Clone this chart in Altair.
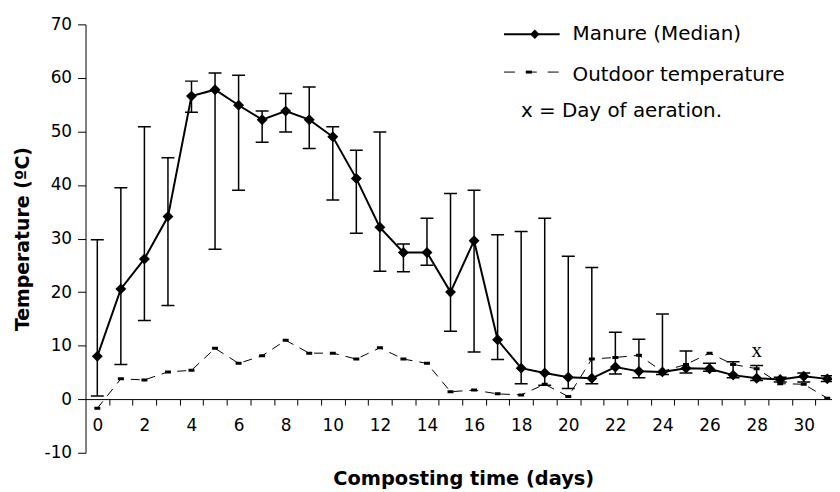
import altair as alt
import pandas as pd

# ---------------- data ----------------
days = list(range(32))
manure_median = [8.0, 20.6, 26.2, 34.1, 56.6, 57.8, 54.9, 52.2, 53.8, 52.2,
                 49.0, 41.2, 32.1, 27.4, 27.4, 20.0, 29.6, 11.1, 5.8, 4.9,
                 4.1, 3.9, 6.0, 5.2, 5.1, 5.8, 5.7, 4.5, 3.9, 3.7, 4.3, 3.8]
manure_upper = [29.8, 39.5, 50.9, 45.1, 59.4, 60.9, 60.5, 53.8, 57.1, 58.3,
                50.9, 46.5, 49.9, 29.0, 33.8, 38.4, 39.0, 30.7, 31.3, 33.8,
                26.7, 24.6, 12.5, 11.2, 15.9, 9.0, 6.7, 7.0, 6.3, 4.1, 4.9, 4.4]
manure_lower = [0.6, 6.5, 14.7, 17.5, 53.6, 28.0, 39.0, 48.0, 49.9, 46.8,
                37.2, 31.0, 23.9, 23.8, 25.0, 12.7, 8.8, 7.4, 2.9, 2.6,
                2.0, 2.9, 4.7, 4.0, 4.6, 4.9, 5.2, 4.0, 3.5, 3.2, 3.2, 3.3]
outdoor_temp = [-1.7, 3.8, 3.6, 5.1, 5.4, 9.5, 6.7, 8.1, 11.0, 8.6,
                8.6, 7.5, 9.6, 7.5, 6.7, 1.4, 1.7, 1.0, 0.8, 2.8,
                0.5, 7.5, 7.8, 8.2, 5.2, 6.5, 8.6, 6.5, 5.7, 2.9, 2.8, 0.2]
aeration_days = [28]
aeration_level = [9.0]
aeration_symbol = ["x"]

x_tick_positions = [v / 2 for v in range(0, 63)]   # labels on even days, ticks between days
y_ticks = list(range(-10, 71, 10))
legend_labels = ["Manure (Median)", "Outdoor temperature", "x = Day of aeration."]

df = pd.DataFrame({"day": days, "median": manure_median, "upper": manure_upper,
                   "lower": manure_lower, "outdoor": outdoor_temp})
aer = pd.DataFrame({"day": aeration_days, "level": aeration_level, "sym": aeration_symbol})

FONT = "DejaVu Sans"

xscale = alt.Scale(domain=[-0.5, 31.2], nice=False, zero=False)
yscale = alt.Scale(domain=[-10, 70], nice=False, zero=False)

xaxis = alt.Axis(
    values=x_tick_positions, offset=-54, grid=False,
    tickSize=6, tickWidth=1, tickColor="black",
    tickOpacity={"condition": {"test": "datum.value % 1 === 0", "value": 0}, "value": 1},
    labelExpr="datum.value % 2 === 0 ? '' + datum.value : ''",
    labelOverlap=False, labelFlush=False, labelFont=FONT, labelFontSize=17,
    labelColor="black", labelPadding=13,
    domainColor="black", domainWidth=1,
    title="Composting time (days)", titleFont=FONT, titleFontSize=19.5,
    titleFontWeight="bold", titleColor="black",
    titleX=380, titleY=86, titleBaseline="alphabetic", titleAlign="center",
)
yaxis = alt.Axis(
    values=y_ticks, grid=False, tickSize=8, tickWidth=1, tickColor="black",
    domainColor="black", domainWidth=1,
    labelExpr="'' + datum.value",
    labelFont=FONT, labelFontSize=17, labelColor="black", labelPadding=6,
    title="Temperature (ºC)", titleFont=FONT, titleFontSize=19,
    titleFontWeight="bold", titleColor="black", titleX=-63, titleBaseline="middle",
)

X = alt.X("day:Q", scale=xscale, axis=xaxis)


def Y(field):
    return alt.Y(f"{field}:Q", scale=yscale, axis=yaxis)


base = alt.Chart(df)

outdoor_line = base.mark_line(color="black", strokeWidth=1, strokeDash=[9, 7], clip=True).encode(
    x=X, y=Y("outdoor"))
outdoor_pts = base.mark_point(shape="M-1,-0.5H1V0.5H-1Z", size=36, filled=True, color="black",
                              opacity=1, clip=True).encode(x=X, y=Y("outdoor"))
err_rule = base.mark_rule(color="black", strokeWidth=1.5, clip=True).encode(
    x=X, y=Y("lower"), y2="upper:Q")
cap_hi = base.mark_tick(orient="horizontal", size=13, thickness=1.5, color="black",
                        opacity=1, clip=True).encode(x=X, y=Y("upper"))
cap_lo = base.mark_tick(orient="horizontal", size=13, thickness=1.5, color="black",
                        opacity=1, clip=True).encode(x=X, y=Y("lower"))
med_line = base.mark_line(color="black", strokeWidth=2, clip=True).encode(x=X, y=Y("median"))
med_pts = base.mark_point(shape="diamond", filled=True, size=121, color="black",
                          opacity=1, clip=True).encode(x=X, y=Y("median"))

aer_text = alt.Chart(aer).mark_text(font="Liberation Serif", fontSize=21, color="black",
                                    baseline="middle", align="center").encode(
    x=X, y=Y("level"), text="sym:N")

# ---------------- legend (drawn manually, pixel layout) ----------------
one = pd.DataFrame({"k": [0]})
LFS = 20
leg1_line = alt.Chart(one).mark_rule(color="black", strokeWidth=2).encode(
    x=alt.value(421), x2=alt.value(477), y=alt.value(10))
leg1_pt = alt.Chart(one).mark_point(shape="diamond", filled=True, size=90, color="black",
                                    opacity=1).encode(x=alt.value(452), y=alt.value(10))
leg2_line = alt.Chart(one).mark_rule(color="black", strokeWidth=1, strokeDash=[11, 11]).encode(
    x=alt.value(421), x2=alt.value(480), y=alt.value(48))
leg2_pt = alt.Chart(one).mark_point(shape="M-1,-0.5H1V0.5H-1Z", size=36, filled=True,
                                    color="black", opacity=1).encode(
    x=alt.value(446), y=alt.value(48))


def leg_text(label, x, y):
    return alt.Chart(pd.DataFrame({"t": [label]})).mark_text(
        font=FONT, fontSize=LFS, color="black", align="left", baseline="alphabetic").encode(
        x=alt.value(x), y=alt.value(y), text="t:N")


leg_t1 = leg_text(legend_labels[0], 490, 16)
leg_t2 = leg_text(legend_labels[1], 490, 57)
leg_t3 = leg_text(legend_labels[2], 438, 93)

chart = alt.layer(
    outdoor_line, outdoor_pts, err_rule, cap_hi, cap_lo, med_line, med_pts, aer_text,
    leg1_line, leg1_pt, leg2_line, leg2_pt, leg_t1, leg_t2, leg_t3,
).properties(
    width=751, height=431,
    padding={"left": 6, "top": 6, "right": 0, "bottom": 0},
    background="white",
).configure_view(stroke=None)

chart.save("out.html", embed_options={"renderer": "svg", "actions": False})
